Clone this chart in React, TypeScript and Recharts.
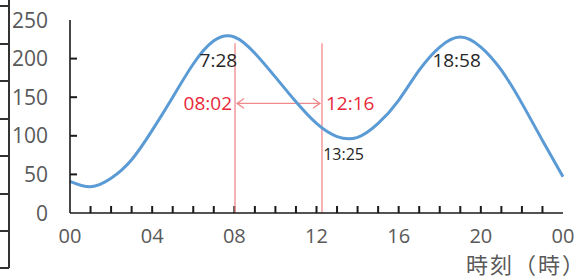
import React from 'react';
import { LineChart, Line, XAxis, YAxis, ReferenceLine, ReferenceDot } from 'recharts';

// Hourly tide level (cm)
const hours = [0, 1, 2, 3, 4, 5, 6, 7, 8, 9, 10, 11, 12, 13, 14, 15, 16, 17, 18, 19, 20, 21, 22, 23, 24];
const tideLevel = [41, 34, 45, 69, 107, 150, 193, 223, 228, 207, 176, 144, 116, 99, 98, 116, 146, 185, 215, 228, 215, 185, 142, 94, 47];

const xTicks = [0, 4, 8, 12, 16, 20, 24];
const xTickLabels: Record<number, string> = { 0: '00', 4: '04', 8: '08', 12: '12', 16: '16', 20: '20', 24: '00' };
const xMinorTicks = [1, 2, 3, 4, 5, 6, 7, 8, 9, 10, 11, 12, 13, 14, 15, 16, 17, 18, 19, 20, 21, 22, 23];
const yTicks = [0, 50, 100, 150, 200, 250];
const yInnerTicks = [50, 100, 150, 200];

// High / low water annotations
const extremeTimes = [7 + 28 / 60, 13 + 25 / 60, 18 + 58 / 60];
const extremeLevels = [230, 96, 228];
const extremeLabels = ['7:28', '13:25', '18:58'];

// Marked period
const markTimes = [8 + 2 / 60, 12 + 16 / 60];
const markLabels = ['08:02', '12:16'];
const markTop = 220;
const arrowLevel = 142;

const axisTitle = '時刻（時）';

const data = hours.map((h, i) => ({ h, level: tideLevel[i] }));

const FONT = '"Open Sans", "Noto Sans", sans-serif';
const CJK = '"Noto Sans CJK JP", "Noto Sans", sans-serif';
const TICK_COLOR = '#1a1a1a';

const XTick = (props: any) => {
  const { x, y, payload } = props;
  const label = xTickLabels[payload.value];
  if (!label) return <g />;
  return (
    <text x={x} y={y + 30} textAnchor="middle" fill="#595959" fontSize={20} fontFamily={FONT}>
      {label}
    </text>
  );
};

const YTick = (props: any) => {
  const { x, y, payload } = props;
  return (
    <text x={x - 22} y={y + 7.5} textAnchor="end" fill="#595959" fontSize={21} fontFamily={FONT}>
      {payload.value}
    </text>
  );
};

const XMinorShape = (p: any) => {
  const x = p.x1;
  const yb = Math.max(p.y1, p.y2);
  return <line x1={x} x2={x} y1={yb} y2={yb - 7} stroke={TICK_COLOR} strokeWidth={2} />;
};

const YMinorShape = (p: any) => {
  const xl = Math.min(p.x1, p.x2);
  const y = p.y1;
  return <line x1={xl} x2={xl + 7} y1={y} y2={y} stroke={TICK_COLOR} strokeWidth={2} />;
};

const ArrowShape = (p: any) => {
  const { x1, y1, x2, y2 } = p;
  const a = 7;
  return (
    <g>
      <line x1={x1 + 2} y1={y1} x2={x2 - 2} y2={y2} stroke="#f08a8a" strokeWidth={1.3} />
      <polyline points={`${x1 + 2 + a},${y1 - a * 0.7} ${x1 + 2},${y1} ${x1 + 2 + a},${y1 + a * 0.7}`} fill="none" stroke="#f08a8a" strokeWidth={1.3} />
      <polyline points={`${x2 - 2 - a},${y2 - a * 0.7} ${x2 - 2},${y2} ${x2 - 2 - a},${y2 + a * 0.7}`} fill="none" stroke="#f08a8a" strokeWidth={1.3} />
    </g>
  );
};

const extremeStyle = [
  { dx: -5, dy: 25, size: 19 },
  { dx: -2, dy: 15, size: 16 },
  { dx: -3, dy: 23, size: 19 },
];

const sideDecoration = [5, 43, 80, 118, 155, 193, 230, 267];

export default function App() {
  return (
    <div style={{ position: 'absolute', left: 0, top: 0, width: 588, height: 278, background: '#fff' }}>
      <div style={{ position: 'absolute', left: 0, top: 0, width: 8, height: 268, borderRight: '2px solid #333' }} />
      {sideDecoration.map((t) => (
        <div key={t} style={{ position: 'absolute', left: 0, top: t, width: 9, height: 0, borderTop: '2px solid #333' }} />
      ))}
      <LineChart width={588} height={278} data={data} margin={{ top: 20, right: 25, left: 0, bottom: 0 }} style={{ position: 'absolute', left: 0, top: 0 }}>
        <XAxis
          dataKey="h"
          type="number"
          domain={[0, 24]}
          ticks={xTicks}
          interval={0}
          tickSize={0}
          tickMargin={0}
          tickLine={false}
          height={65}
          axisLine={{ stroke: TICK_COLOR, strokeWidth: 1.6 }}
          tick={<XTick />}
          label={{
            content: (p: any) => {
              const vb = p.viewBox;
              return (
                <text x={vb.x + vb.width - 97} y={vb.y + 60} textAnchor="start" fill="#595959" fontSize={22} letterSpacing={2} fontFamily={CJK}>
                  {axisTitle}
                </text>
              );
            },
          }}
        />
        <XAxis xAxisId="top" orientation="top" type="number" domain={[0, 24]} height={0} tick={false} tickLine={false} axisLine={{ stroke: '#8a8a8a', strokeWidth: 1.5 }} />
        <YAxis
          type="number"
          domain={[0, 250]}
          ticks={yTicks}
          interval={0}
          width={70}
          tickSize={0}
          tickMargin={0}
          tickLine={false}
          axisLine={{ stroke: TICK_COLOR, strokeWidth: 1.6 }}
          tick={<YTick />}
        />
        <YAxis yAxisId="right" orientation="right" type="number" domain={[0, 250]} width={0} tick={false} tickLine={false} axisLine={{ stroke: '#8a8a8a', strokeWidth: 1.5 }} />
        {xMinorTicks.map((h) => (
          <ReferenceLine key={'xt' + h} x={h} shape={<XMinorShape />} />
        ))}
        {yInnerTicks.map((v) => (
          <ReferenceLine key={'yt' + v} y={v} shape={<YMinorShape />} />
        ))}
        {markTimes.map((t) => (
          <ReferenceLine key={'m' + t} segment={[{ x: t, y: 0 }, { x: t, y: markTop }]} stroke="#f08a8a" strokeWidth={1.3} />
        ))}
        <ReferenceLine segment={[{ x: markTimes[0], y: arrowLevel }, { x: markTimes[1], y: arrowLevel }]} shape={<ArrowShape />} />
        <Line type="natural" dataKey="level" stroke="#5b9bd5" strokeWidth={3} dot={false} isAnimationActive={false} />
        {markTimes.map((t, i) => (
          <ReferenceDot
            key={'ml' + i}
            x={t}
            y={arrowLevel}
            r={0}
            shape={(p: any) => (
              <text
                x={p.cx + (i === 0 ? -3 : 4)}
                y={p.cy + 7}
                textAnchor={i === 0 ? 'end' : 'start'}
                fill="#e8283a"
                fontSize={19}
                fontFamily={FONT}
              >
                {markLabels[i]}
              </text>
            )}
          />
        ))}
        {extremeTimes.map((t, i) => (
          <ReferenceDot
            key={'e' + i}
            x={t}
            y={extremeLevels[i]}
            r={0}
            shape={(p: any) => (
              <text
                x={p.cx + extremeStyle[i].dx}
                y={p.cy + extremeStyle[i].dy + extremeStyle[i].size * 0.36}
                textAnchor="middle"
                fill="#262626"
                fontSize={extremeStyle[i].size}
                fontFamily={FONT}
              >
                {extremeLabels[i]}
              </text>
            )}
          />
        ))}
      </LineChart>
    </div>
  );
}
